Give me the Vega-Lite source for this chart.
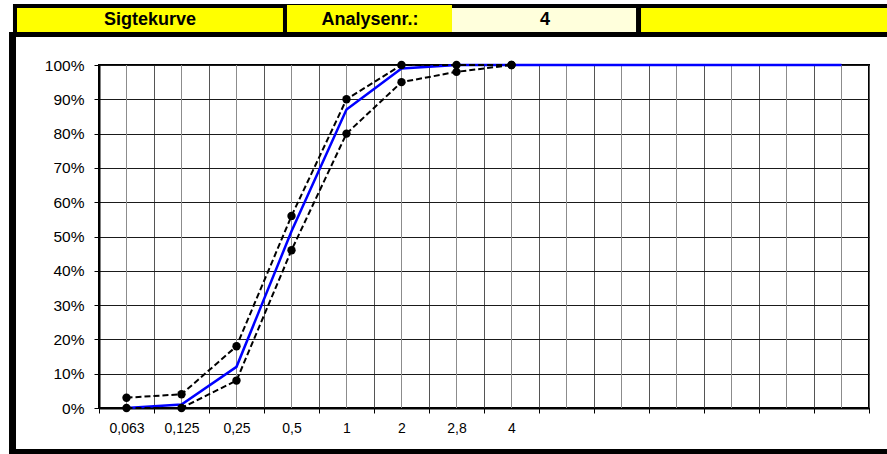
{
  "$schema": "https://vega.github.io/schema/vega-lite/v6.json",
  "width": 770,
  "height": 343,
  "autosize": {"type": "none"},
  "padding": {"left": 99, "top": 65, "right": 18, "bottom": 46},
  "background": "white",
  "config": {
    "view": {"stroke": "black", "strokeWidth": 2},
    "font": "Liberation Sans"
  },
  "datasets": {
    "sheet": [
      {"part": "border", "x0": -1.064, "x1": 15, "y0": 1.1778, "y1": 1.0816},
      {"part": "border", "x0": -1.136, "x1": -1.009, "y0": 1.0962, "y1": -0.1341},
      {"part": "border", "x0": -1.136, "x1": 15, "y0": -0.1195, "y1": -0.1341},
      {"part": "yellow", "x0": -0.991, "x1": 3.845, "y0": 1.1662, "y1": 1.0962},
      {"part": "yellow", "x0": 3.918, "x1": 6.918, "y0": 1.1749, "y1": 1.0962},
      {"part": "cream", "x0": 6.918, "x1": 10.264, "y0": 1.1662, "y1": 1.0962},
      {"part": "yellow", "x0": 10.355, "x1": 15, "y0": 1.1662, "y1": 1.0962}
    ],
    "headerText": [
      {"text": "Sigtekurve", "xm": 1.427, "ym": 1.1312},
      {"text": "Analysenr.:", "xm": 5.427, "ym": 1.1312},
      {"text": "4", "xm": 8.609, "ym": 1.1312}
    ],
    "curves": [
      {"series": "Prøve", "idx": 1, "sieve": "0,063", "value": 0.0},
      {"series": "Prøve", "idx": 2, "sieve": "0,125", "value": 0.01},
      {"series": "Prøve", "idx": 3, "sieve": "0,25", "value": 0.12},
      {"series": "Prøve", "idx": 4, "sieve": "0,5", "value": 0.515},
      {"series": "Prøve", "idx": 5, "sieve": "1", "value": 0.87},
      {"series": "Prøve", "idx": 6, "sieve": "2", "value": 0.99},
      {"series": "Prøve", "idx": 7, "sieve": "2,8", "value": 1.0},
      {"series": "Prøve", "idx": 8, "sieve": "4", "value": 1.0},
      {"series": "Prøve", "idx": 9, "sieve": "", "value": 1.0},
      {"series": "Prøve", "idx": 10, "sieve": "", "value": 1.0},
      {"series": "Prøve", "idx": 11, "sieve": "", "value": 1.0},
      {"series": "Prøve", "idx": 12, "sieve": "", "value": 1.0},
      {"series": "Prøve", "idx": 13, "sieve": "", "value": 1.0},
      {"series": "Prøve", "idx": 14, "sieve": "", "value": 1.0},
      {"series": "Øvre grænse", "idx": 1, "sieve": "0,063", "value": 0.03},
      {"series": "Øvre grænse", "idx": 2, "sieve": "0,125", "value": 0.04},
      {"series": "Øvre grænse", "idx": 3, "sieve": "0,25", "value": 0.18},
      {"series": "Øvre grænse", "idx": 4, "sieve": "0,5", "value": 0.56},
      {"series": "Øvre grænse", "idx": 5, "sieve": "1", "value": 0.90},
      {"series": "Øvre grænse", "idx": 6, "sieve": "2", "value": 1.0},
      {"series": "Øvre grænse", "idx": 7, "sieve": "2,8", "value": 1.0},
      {"series": "Øvre grænse", "idx": 8, "sieve": "4", "value": 1.0},
      {"series": "Nedre grænse", "idx": 1, "sieve": "0,063", "value": 0.0},
      {"series": "Nedre grænse", "idx": 2, "sieve": "0,125", "value": 0.0},
      {"series": "Nedre grænse", "idx": 3, "sieve": "0,25", "value": 0.08},
      {"series": "Nedre grænse", "idx": 4, "sieve": "0,5", "value": 0.46},
      {"series": "Nedre grænse", "idx": 5, "sieve": "1", "value": 0.80},
      {"series": "Nedre grænse", "idx": 6, "sieve": "2", "value": 0.95},
      {"series": "Nedre grænse", "idx": 7, "sieve": "2,8", "value": 0.98},
      {"series": "Nedre grænse", "idx": 8, "sieve": "4", "value": 1.0}
    ]
  },
  "encoding": {
    "x": {
      "type": "quantitative",
      "scale": {"domain": [0.5, 14.5], "nice": false, "zero": false},
      "axis": {
        "title": null,
        "values": [0.5, 1.5, 2.5, 3.5, 4.5, 5.5, 6.5, 7.5, 8.5, 9.5, 10.5, 11.5, 12.5, 13.5, 14.5],
        "labelExpr": "datum.value < 8 ? ['0,063','0,125','0,25','0,5','1','2','2,8','4'][datum.value - 0.5] : ''",
        "labelOffset": 27.5, "labelAngle": 0, "labelFlush": false, "labelOverlap": false,
        "grid": true, "gridColor": "#555555", "gridWidth": 1,
        "domainColor": "black", "domainWidth": 2,
        "tickColor": "black", "tickSize": 5, "tickWidth": 1,
        "labelFont": "Liberation Sans", "labelFontSize": 14, "labelColor": "black", "labelPadding": 8
      }
    },
    "y": {
      "type": "quantitative",
      "scale": {"domain": [0, 1], "nice": false, "zero": false},
      "axis": {
        "title": null, "values": [0, 0.1, 0.2, 0.3, 0.4, 0.5, 0.6, 0.7, 0.8, 0.9, 1], "format": ".0%",
        "grid": true, "gridColor": "#1a1a1a", "gridWidth": 1,
        "domainColor": "black", "domainWidth": 2,
        "tickColor": "black", "tickSize": 5, "tickWidth": 1,
        "labelFont": "Liberation Sans", "labelFontSize": 15.5, "labelColor": "black", "labelPadding": 10
      }
    }
  },
  "layer": [
    {
      "data": {"name": "sheet"},
      "mark": {"type": "rect", "clip": false},
      "encoding": {
        "x": {"field": "x0", "type": "quantitative"},
        "x2": {"field": "x1"},
        "y": {"field": "y0", "type": "quantitative"},
        "y2": {"field": "y1"},
        "color": {"field": "part", "type": "nominal", "legend": null, "scale": {"domain": ["border", "yellow", "cream"], "range": ["#000000", "#FFFF00", "#FFFFDC"]}}
      }
    },
    {
      "data": {"name": "headerText"},
      "mark": {"type": "text", "clip": false, "fontWeight": "bold", "fontSize": 18, "font": "Liberation Sans", "color": "black", "align": "center", "baseline": "middle"},
      "encoding": {
        "x": {"field": "xm", "type": "quantitative"},
        "y": {"field": "ym", "type": "quantitative"},
        "text": {"field": "text"}
      }
    },
    {
      "data": {"name": "curves"},
      "transform": [{"filter": "datum.series == 'Prøve'"}],
      "mark": {"type": "rule", "color": "#8c8c8c", "strokeWidth": 1},
      "encoding": {
        "x": {"field": "idx", "type": "quantitative"}
      }
    },
    {
      "data": {"name": "curves"},
      "transform": [{"filter": "datum.series == 'Prøve'"}],
      "mark": {"type": "line", "color": "#0000FF", "strokeWidth": 2.5},
      "encoding": {
        "x": {"field": "idx", "type": "quantitative"},
        "y": {"field": "value", "type": "quantitative"}
      }
    },
    {
      "data": {"name": "curves"},
      "transform": [{"filter": "datum.series != 'Prøve'"}],
      "mark": {"type": "line", "color": "black", "strokeWidth": 2, "strokeDash": [6, 3]},
      "encoding": {
        "x": {"field": "idx", "type": "quantitative"},
        "y": {"field": "value", "type": "quantitative"},
        "detail": {"field": "series"}
      }
    },
    {
      "data": {"name": "curves"},
      "transform": [{"filter": "datum.series != 'Prøve'"}],
      "mark": {"type": "point", "filled": true, "color": "black", "size": 70, "opacity": 1},
      "encoding": {
        "x": {"field": "idx", "type": "quantitative"},
        "y": {"field": "value", "type": "quantitative"}
      }
    }
  ]
}
